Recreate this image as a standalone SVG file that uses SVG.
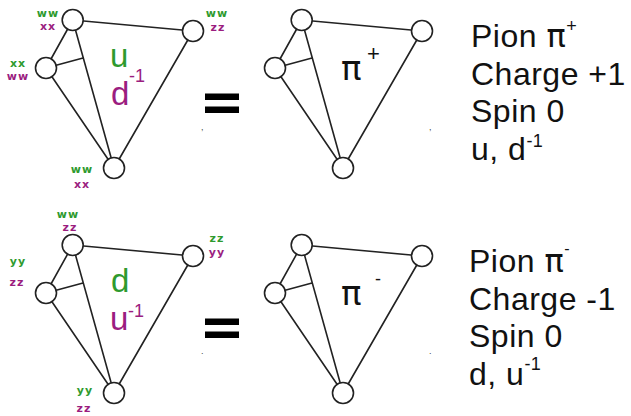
<svg xmlns="http://www.w3.org/2000/svg" width="631" height="416" viewBox="0 0 631 416">
<style>
.n{fill:#fff;stroke:#222;stroke-width:1.6}
.e{stroke:#222;stroke-width:1.6;fill:none}
.lb{font-family:"DejaVu Sans",sans-serif;font-weight:bold;font-size:11px;letter-spacing:1px;text-anchor:middle}
.g{fill:#2e9a2e}
.p{fill:#9b1d80}
.big{font-family:"Liberation Sans",Arial,sans-serif;font-size:33px}
.sup{font-family:"Liberation Sans",Arial,sans-serif;font-size:18px}
.pi{font-family:"DejaVu Sans",sans-serif}
.t{font-family:"Liberation Sans",Arial,sans-serif;font-size:32px;letter-spacing:0.5px;fill:#111}
.eq{fill:#000}
.dot{font-family:"Liberation Sans",Arial,sans-serif;font-size:9px;fill:#444}
</style>
<defs>
<g id="tri">
<path class="e" d="M72.7,20 L193,31 M193,31 L114,168 M46,68 L114,168 M72.7,20 L46,68 M72.7,20 L114,168 M46,68 L83,58"/>
</g>
<g id="nodes">
<circle class="n" cx="72.7" cy="20" r="10.5"/>
<circle class="n" cx="193" cy="31" r="10.5"/>
<circle class="n" cx="46" cy="68" r="10.5"/>
<circle class="n" cx="114" cy="168" r="10.5"/>
</g>
</defs>
<g id="connectors">
<use href="#tri"/>
<use href="#tri" x="229" y="0"/>
<use href="#tri" x="0" y="225"/>
<use href="#tri" x="229" y="225"/>
</g>
<g id="diagram-u-dbar">
<use href="#nodes"/>
<text class="lb g" x="48" y="16.5">ww</text>
<text class="lb p" x="48" y="30">xx</text>
<text class="lb g" x="18" y="66.5">xx</text>
<text class="lb p" x="18" y="80">ww</text>
<text class="lb g" x="217" y="17">ww</text>
<text class="lb p" x="218" y="31">zz</text>
<text class="lb g" x="82" y="173">ww</text>
<text class="lb p" x="82" y="188">xx</text>
<text class="big g" x="110" y="67">u</text>
<text class="big p" x="111" y="105">d</text>
<text class="sup p" x="129" y="82">-1</text>
</g>
<g id="eq-top">
<rect class="eq" x="205" y="93.5" width="34" height="6.5"/>
<rect class="eq" x="205" y="106.5" width="34" height="6.5"/>
<text class="dot" x="201" y="130">,</text>
</g>
<g id="diagram-pi-plus">
<use href="#nodes" x="229"/>
<text class="pi" style="font-size:34px" fill="#111" x="341" y="80">π</text>
<text class="sup" style="font-size:22px" fill="#111" x="367" y="61">+</text>
<text class="dot" x="429" y="130">,</text>
</g>
<g id="desc-pi-plus">
<text class="t" x="471" y="47">Pion <tspan class="pi">π</tspan><tspan font-size="18" dy="-15">+</tspan></text>
<text class="t" x="471" y="85">Charge +1</text>
<text class="t" x="471" y="122">Spin 0</text>
<text class="t" x="471" y="160">u, d<tspan font-size="18" dy="-13">-1</tspan></text>
</g>
<g id="diagram-d-ubar">
<use href="#nodes" y="225"/>
<text class="lb g" x="68" y="217.5">ww</text>
<text class="lb p" x="70" y="231">zz</text>
<text class="lb g" x="18" y="265">yy</text>
<text class="lb p" x="17" y="286">zz</text>
<text class="lb g" x="217" y="242">zz</text>
<text class="lb p" x="217" y="256">yy</text>
<text class="lb g" x="85" y="394">yy</text>
<text class="lb p" x="84" y="412">zz</text>
<text class="big g" x="111" y="292">d</text>
<text class="big p" x="110" y="330">u</text>
<text class="sup p" x="128" y="317">-1</text>
</g>
<g id="eq-bottom">
<rect class="eq" x="205" y="318.5" width="34" height="6.5"/>
<rect class="eq" x="205" y="331.5" width="34" height="6.5"/>
<text class="dot" x="201" y="354">.</text>
</g>
<g id="diagram-pi-minus">
<use href="#nodes" x="229" y="225"/>
<text class="pi" style="font-size:34px" fill="#111" x="341" y="305">π</text>
<text class="sup" fill="#111" x="375" y="285">-</text>
<text class="dot" x="429" y="354">.</text>
</g>
<g id="desc-pi-minus">
<text class="t" x="469" y="272">Pion <tspan class="pi">π</tspan><tspan font-size="16" dy="-18">-</tspan></text>
<text class="t" x="469" y="310">Charge -1</text>
<text class="t" x="469" y="347">Spin 0</text>
<text class="t" x="469" y="385">d, u<tspan font-size="18" dy="-15">-1</tspan></text>
</g>
</svg>
